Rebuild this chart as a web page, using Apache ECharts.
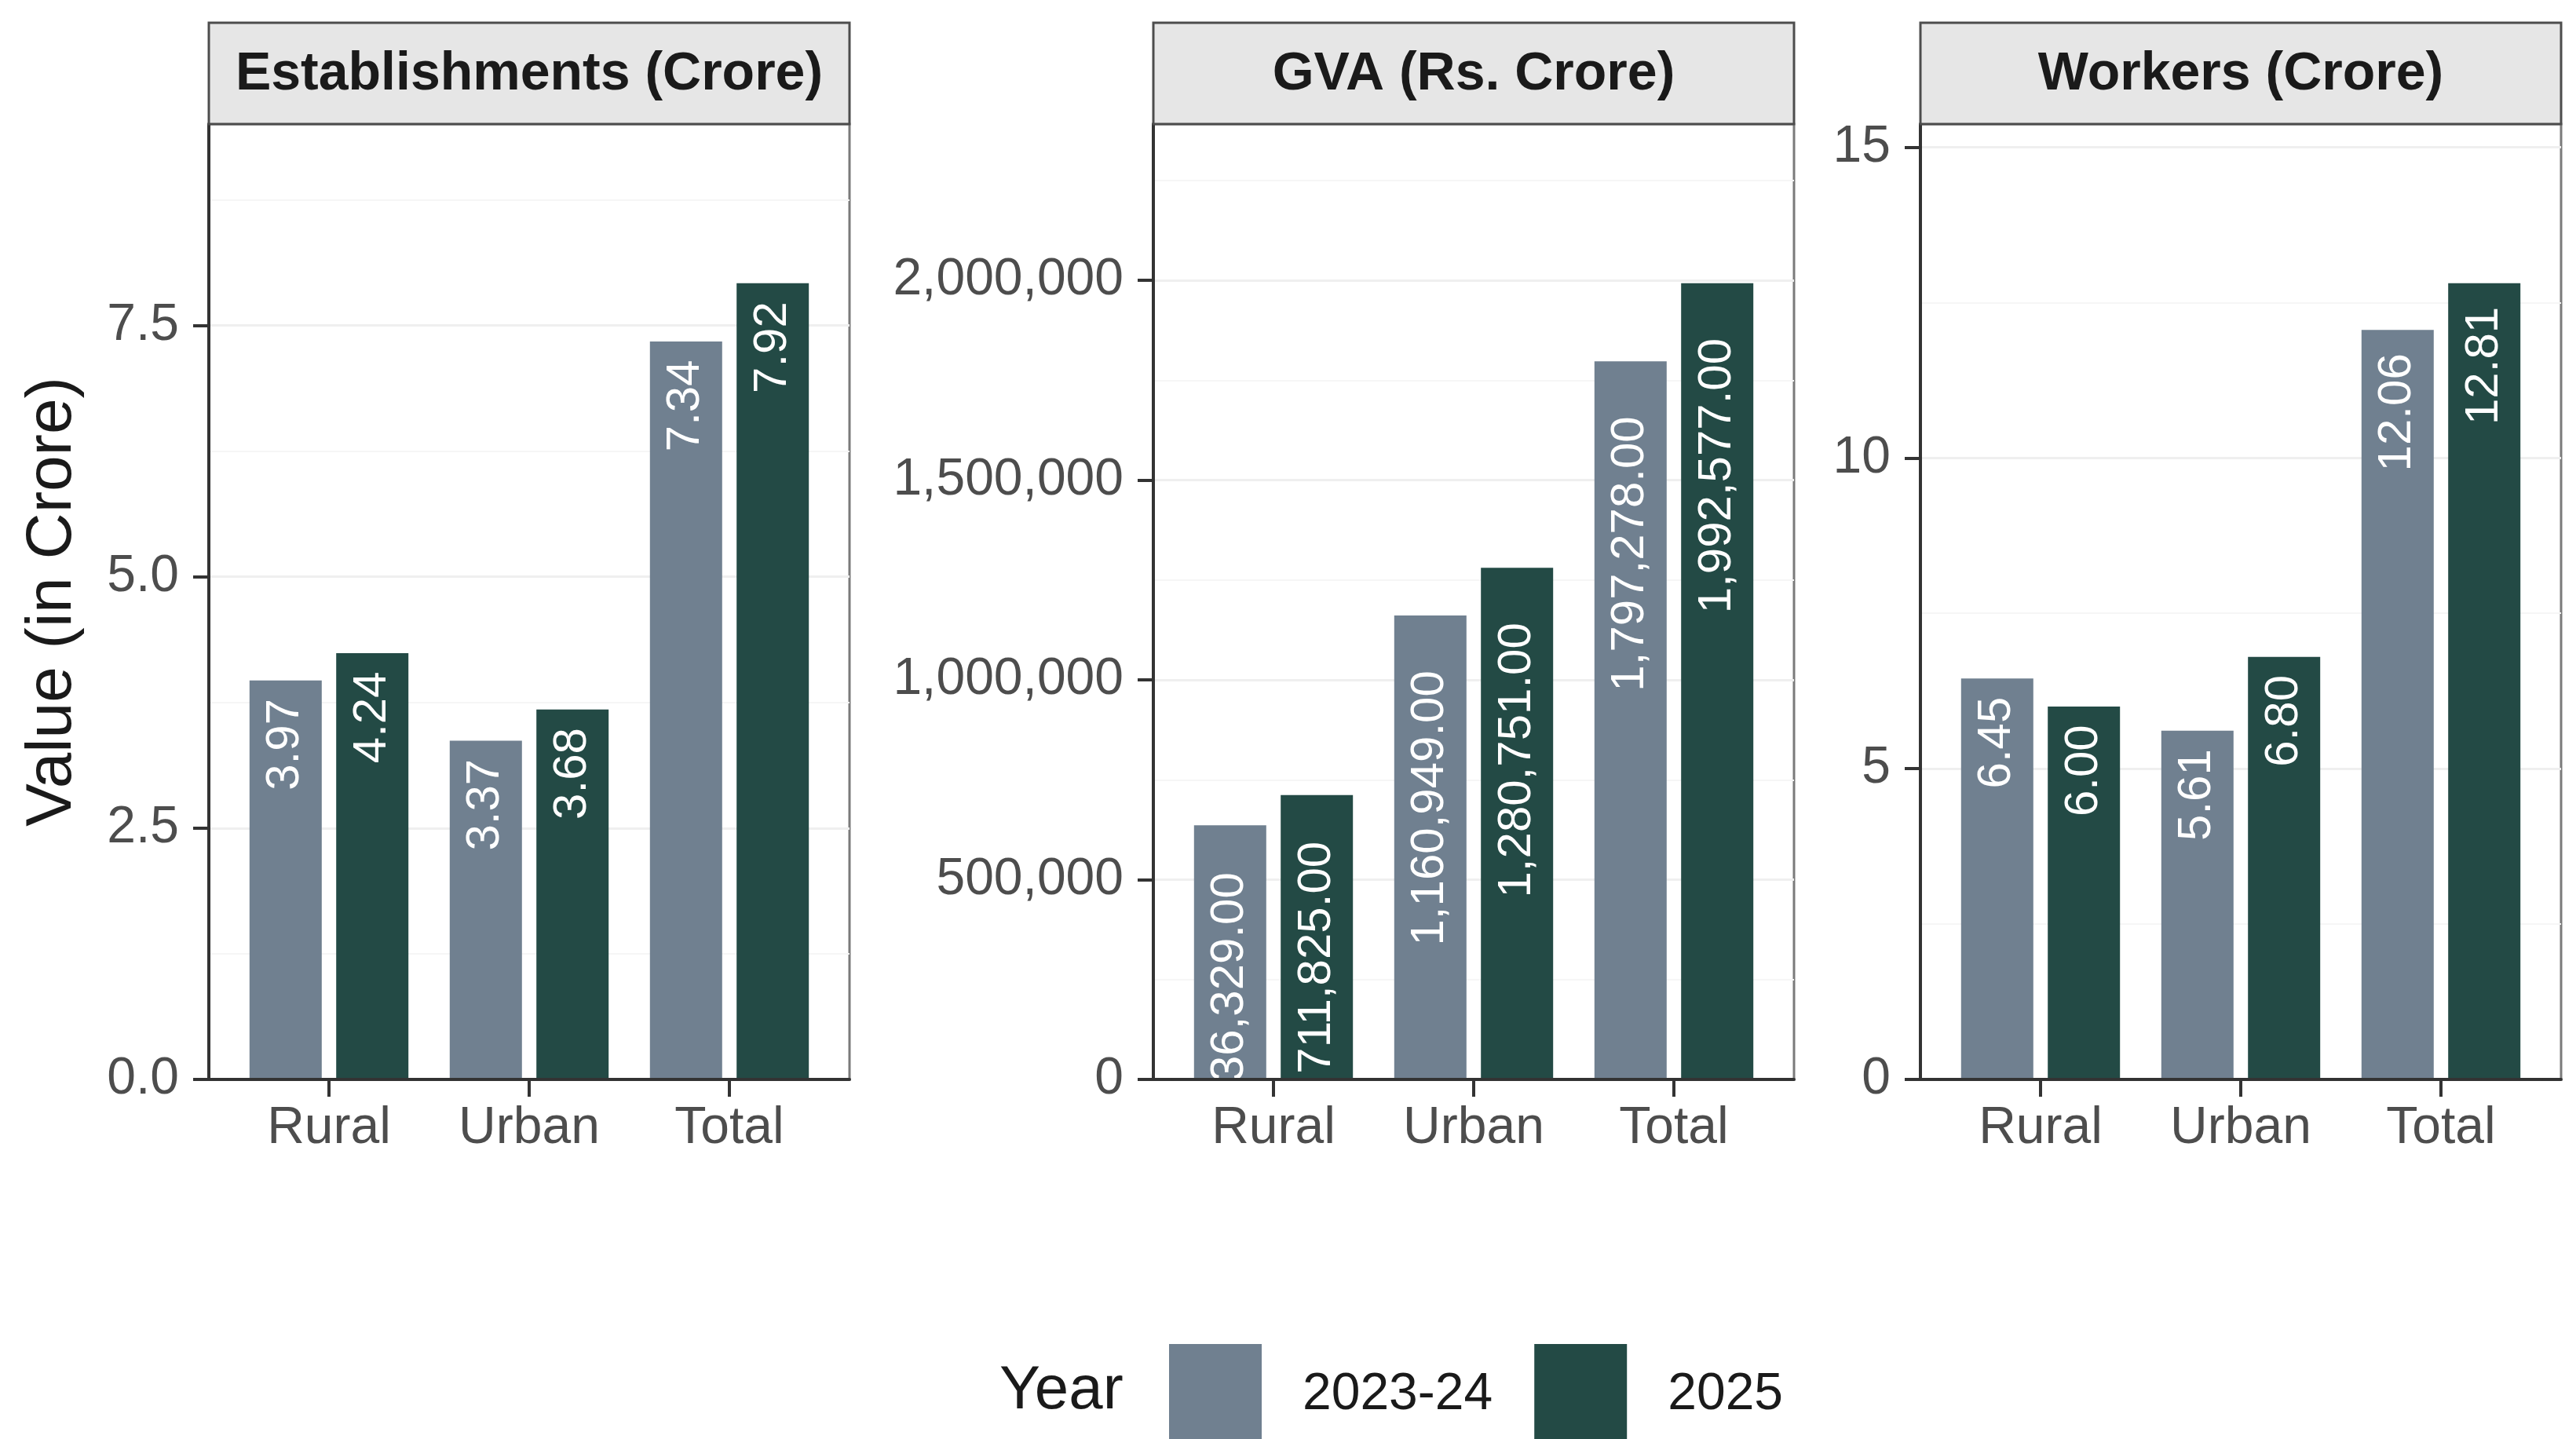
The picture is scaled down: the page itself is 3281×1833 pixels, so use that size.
<!DOCTYPE html>
<html>
<head>
<meta charset="utf-8">
<title>Establishments, GVA and Workers</title>
<script src="https://cdn.jsdelivr.net/npm/echarts@6/dist/echarts.min.js"></script>
<style>
  html, body { margin: 0; padding: 0; background: #ffffff; }
  #chart { width: 3281px; height: 1833px; }
</style>
</head>
<body>
<div id="chart"></div>
<script>
// ---- data ----
const categories = ['Rural', 'Urban', 'Total'];
const years = ['2023-24', '2025'];
const panelTitles = ['Establishments (Crore)', 'GVA (Rs. Crore)', 'Workers (Crore)'];

const establishments2023 = [3.97, 3.37, 7.34];
const establishments2025 = [4.24, 3.68, 7.92];
const gva2023 = [636329.00, 1160949.00, 1797278.00];
const gva2025 = [711825.00, 1280751.00, 1992577.00];
const workers2023 = [6.45, 5.61, 12.06];
const workers2025 = [6.00, 6.80, 12.81];

const establishmentTicks = [0, 2.5, 5, 7.5];
const gvaTicks = [0, 500000, 1000000, 1500000, 2000000];
const workerTicks = [0, 5, 10, 15];

// ---- formatting helpers ----
const FONT = '"Liberation Sans", Arial, Helvetica, sans-serif';
function commas(n, digits) {
  return n.toLocaleString('en-US', { minimumFractionDigits: digits, maximumFractionDigits: digits });
}

const panels = [
  { title: panelTitles[0], a: establishments2023, b: establishments2025, ticks: establishmentTicks, interval: 2.5,
    tickFmt: v => v.toFixed(1), valFmt: v => v.toFixed(2) },
  { title: panelTitles[1], a: gva2023, b: gva2025, ticks: gvaTicks, interval: 500000,
    tickFmt: v => commas(v, 0), valFmt: v => commas(v, 2) },
  { title: panelTitles[2], a: workers2023, b: workers2025, ticks: workerTicks, interval: 5,
    tickFmt: v => String(v), valFmt: v => v.toFixed(2) }
];

// ---- layout ----
const PANEL_LEFT = [266, 1469, 2446];
const PANEL_W = 816;
const STRIP_TOP = 29;
const PLOT_TOP = 158;
const PLOT_H = 1217;
// the discrete x range runs from 0.4 to 3.6, so the category bands sit inset from the frame
const INNER_W = PANEL_W * 3 / 3.2;
const INNER_PAD = (PANEL_W - INNER_W) / 2;

const COLORS = ['#708090', '#234A45'];
const LABEL_SIZE = 60;

// label offset from the bar top grows with the text length
const measureCtx = document.createElement('canvas').getContext('2d');
measureCtx.font = LABEL_SIZE + 'px ' + FONT;
function labelOffset(text) { return 0.2 * measureCtx.measureText(text).width; }

const grids = [], xAxes = [], yAxes = [], series = [], graphics = [];

panels.forEach((p, i) => {
  const L = PANEL_LEFT[i];
  const yMax = 1.2 * Math.max(...p.a, ...p.b);
  const outer = 2 * i, inner = 2 * i + 1;

  // outer grid: frame, y axis, gridlines; inner grid: bars and category axis
  grids.push({ left: L, top: PLOT_TOP, width: PANEL_W, height: PLOT_H,
               show: true, borderColor: '#7a7a7a', borderWidth: 3, backgroundColor: 'transparent' });
  grids.push({ left: L + INNER_PAD, top: PLOT_TOP, width: INNER_W, height: PLOT_H });

  xAxes.push({ type: 'value', gridIndex: outer, min: 0, max: 1,
    axisLine: { show: true, lineStyle: { color: '#333333', width: 4 } },
    axisTick: { show: false }, axisLabel: { show: false }, splitLine: { show: false } });
  xAxes.push({ type: 'category', gridIndex: inner, data: categories, z: 10,
    axisLine: { show: true, lineStyle: { color: '#333333', width: 4 } },
    axisTick: { show: true, alignWithLabel: true, length: 22, lineStyle: { color: '#333333', width: 4 } },
    axisLabel: { fontSize: 66, color: '#4d4d4d', fontFamily: FONT, margin: 30 } });

  yAxes.push({ type: 'value', gridIndex: outer, min: 0, max: yMax, interval: p.interval,
    axisLine: { show: true, lineStyle: { color: '#333333', width: 4 } },
    axisTick: { show: true, length: 20, lineStyle: { color: '#333333', width: 4 }, customValues: p.ticks },
    axisLabel: { customValues: p.ticks, formatter: v => p.tickFmt(v), fontSize: 66, color: '#4d4d4d',
                 fontFamily: FONT, margin: 38 },
    splitLine: { show: true, lineStyle: { color: '#efefef', width: 3 } },
    minorTick: { show: false, splitNumber: 2 },
    minorSplitLine: { show: true, lineStyle: { color: '#f6f6f6', width: 2 } } });
  yAxes.push({ type: 'value', gridIndex: inner, min: 0, max: yMax, show: false });

  [p.a, p.b].forEach((vals, j) => {
    series.push({
      type: 'bar', name: years[j], xAxisIndex: inner, yAxisIndex: inner,
      barWidth: 92, barGap: '20%',
      itemStyle: { color: COLORS[j] },
      label: { show: true, position: 'insideTop', rotate: 90, align: 'right', verticalAlign: 'middle',
               color: '#ffffff', fontSize: LABEL_SIZE, fontFamily: FONT,
               formatter: d => p.valFmt(d.value) },
      data: vals.map(v => ({ value: v, label: { distance: labelOffset(p.valFmt(v)) } }))
    });
  });

  // facet strip
  graphics.push({ type: 'rect', z: 1,
    shape: { x: L, y: STRIP_TOP, width: PANEL_W, height: PLOT_TOP - STRIP_TOP },
    style: { fill: '#e6e6e6', stroke: '#4d4d4d', lineWidth: 3 } });
  graphics.push({ type: 'text', z: 2,
    style: { text: p.title, x: L + PANEL_W / 2, y: (STRIP_TOP + PLOT_TOP) / 2 + 2,
             textAlign: 'center', textVerticalAlign: 'middle',
             fontSize: 68, fontWeight: 'bold', fontFamily: FONT, fill: '#1a1a1a' } });
  // keeps value labels inside the panel
  graphics.push({ type: 'rect', z: 5,
    shape: { x: L + 4, y: PLOT_TOP + PLOT_H + 3, width: PANEL_W - 4, height: 34 },
    style: { fill: '#ffffff' } });
});

// axis title and legend title
graphics.push({ type: 'text', x: 67, y: PLOT_TOP + PLOT_H / 2, rotation: Math.PI / 2,
  style: { text: 'Value (in Crore)', x: 0, y: 0, textAlign: 'center', textVerticalAlign: 'middle',
           fontSize: 82, fontFamily: FONT, fill: '#1a1a1a' } });
graphics.push({ type: 'text',
  style: { text: 'Year', x: 1273, y: 1772, textAlign: 'left', textVerticalAlign: 'middle',
           fontSize: 78, fontFamily: FONT, fill: '#1a1a1a' } });

const chart = echarts.init(document.getElementById('chart'), null, { renderer: 'canvas' });
chart.setOption({
  animation: false,
  backgroundColor: '#ffffff',
  grid: grids,
  xAxis: xAxes,
  yAxis: yAxes,
  series: series,
  legend: {
    data: years, left: 1484, top: 1707, itemWidth: 118, itemHeight: 130, itemGap: 53,
    icon: 'rect', selectedMode: false,
    textStyle: { fontSize: 66, color: '#1a1a1a', fontFamily: FONT, padding: [0, 0, 0, 47] }
  },
  graphic: { elements: graphics }
});
</script>
</body>
</html>
